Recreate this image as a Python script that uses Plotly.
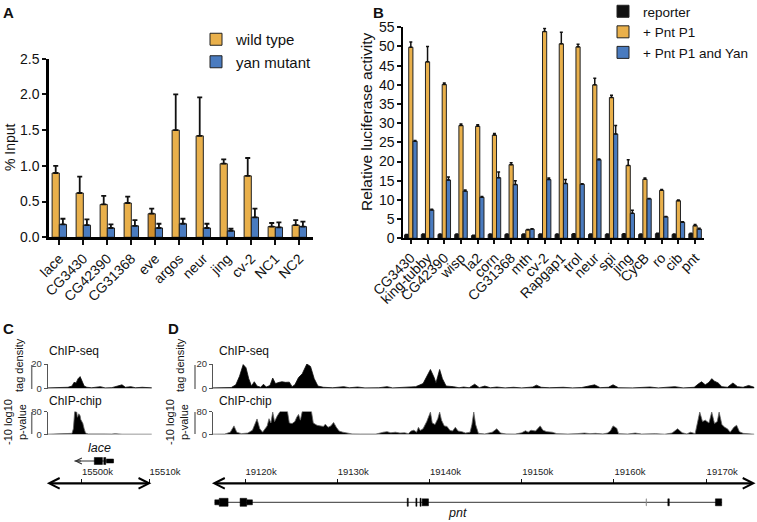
import plotly.graph_objects as go

W, H = 757, 522

# ---------------- panel A : ChIP-qPCR ----------------
A_GENES = ["lace", "CG3430", "CG42390", "CG31368", "eve", "argos", "neur", "jing", "cv-2", "NC1", "NC2"]
A_WILD = [0.90, 0.62, 0.46, 0.48, 0.33, 1.50, 1.42, 1.03, 0.86, 0.15, 0.17]
A_WILD_ERR = [0.10, 0.23, 0.12, 0.09, 0.07, 0.50, 0.54, 0.06, 0.25, 0.05, 0.07]
A_YAN = [0.18, 0.17, 0.13, 0.16, 0.13, 0.19, 0.13, 0.09, 0.28, 0.14, 0.15]
A_YAN_ERR = [0.08, 0.08, 0.05, 0.08, 0.06, 0.07, 0.06, 0.03, 0.12, 0.07, 0.07]

# ---------------- panel B : luciferase ----------------
B_GENES = ["CG3430", "king-tubby", "CG42390", "wisp", "la2", "corn", "CG31368", "mth", "cv-2",
           "Rapgap1", "trol", "neur", "spi", "jing", "CycB", "ro", "cib", "pnt"]
B_REPORTER = [0.9, 1.0, 1.0, 1.0, 0.7, 1.0, 1.0, 1.0, 1.0, 1.0, 1.1, 1.0, 1.0, 1.1, 1.0, 1.2, 1.0, 1.2]
B_REPORTER_ERR = [0.1] * 18
B_P1 = [49.8, 46.0, 40.1, 29.4, 29.2, 26.9, 19.2, 2.2, 53.9, 50.7, 49.9, 40.0, 36.7, 19.0, 15.4, 12.5, 9.8, 3.3]
B_P1_ERR = [1.4, 4.0, 0.4, 0.4, 0.4, 0.4, 0.5, 0.1, 0.8, 3.0, 0.7, 1.7, 0.6, 1.5, 0.3, 0.2, 0.2, 0.3]
B_YAN = [25.3, 7.4, 15.2, 12.3, 10.7, 15.8, 14.0, 2.4, 15.3, 14.3, 14.1, 20.5, 27.2, 6.5, 10.3, 5.6, 4.2, 2.4]
B_YAN_ERR = [0.2, 0.2, 0.8, 0.3, 0.2, 1.5, 1.0, 0.1, 0.4, 1.0, 0.1, 0.2, 2.2, 0.8, 0.1, 0.1, 0.1, 0.2]

# ---------------- panel C : lace locus (kb) ----------------
C_RANGE = [15494.6, 15510.4]
C_TICKS = [15500, 15510]
C_SEQ_POS = [15494.9, 15496.0, 15497.0, 15498.0, 15498.6, 15498.9, 15499.2, 15499.5, 15499.8, 15500.1,
             15500.4, 15500.8, 15501.5, 15502.8, 15503.5, 15504.5, 15506.0, 15506.5, 15507.3, 15508.0,
             15509.0, 15510.5]
C_SEQ_VAL = [0.5, 0.8, 0.5, 1.0, 2.0, 5.0, 4.5, 8.0, 9.7, 6.0,
             2.0, 1.0, 0.6, 1.5, 0.5, 0.7, 3.0, 1.0, 1.5, 0.6,
             1.0, 0.5]
C_CHIP_POS = [15494.9, 15496.0, 15497.0, 15498.0, 15498.6, 15498.8, 15499.0, 15499.3, 15499.4, 15499.6,
              15499.8, 15499.9, 15500.1, 15500.2, 15500.4, 15500.6, 15501.0, 15502.0, 15503.5, 15504.5,
              15505.0, 15506.0, 15507.5, 15508.5, 15510.5]
C_CHIP_VAL = [1, 2, 1, 2, 4, 20, 80, 78, 60, 72,
              65, 52, 45, 39, 20, 5, 2, 1, 2, 1.5,
              3, 1, 2, 1, 1]
LACE_SPAN = [15498.96, 15504.75]
LACE_EXON_START = [15501.9, 15503.3, 15503.7]
LACE_EXON_END = [15503.1, 15503.6, 15504.75]
LACE_EXON_H = [7, 7, 4]

# ---------------- panel D : pnt locus (kb) ----------------
D_RANGE = [19116.2, 19175.4]
D_TICKS = [19120, 19130, 19140, 19150, 19160, 19170]
D_SEQ_POS = [19116.4, 19117.5, 19118.5, 19119.0, 19119.4, 19119.8, 19120.1, 19120.4, 19120.7, 19121.0,
             19121.3, 19121.7, 19122.0, 19122.3, 19122.7, 19123.0, 19123.3, 19123.7, 19124.0, 19124.4,
             19124.8, 19125.1, 19125.4, 19125.8, 19126.2, 19126.7, 19127.1, 19127.5, 19127.9, 19128.5,
             19129.5, 19130.7, 19131.3, 19132.2, 19133.0, 19134.5, 19135.4, 19136.0, 19137.5, 19138.5,
             19139.3, 19139.8, 19140.1, 19140.5, 19140.7, 19140.9, 19141.1, 19141.4, 19141.8, 19142.6,
             19143.2, 19143.7, 19144.3, 19144.9, 19145.4, 19146.0, 19146.6, 19147.3, 19148.2, 19149.1,
             19150.0, 19151.2, 19151.6, 19152.1, 19153.0, 19154.5, 19155.5, 19156.5, 19157.9, 19158.5,
             19159.4, 19159.9, 19160.5, 19162.0, 19163.9, 19164.8, 19166.6, 19167.5, 19168.7, 19169.2,
             19169.5, 19169.9, 19170.3, 19170.6, 19170.9, 19171.3, 19171.7, 19172.3, 19172.9, 19173.4,
             19174.0, 19174.6, 19175.2]
D_SEQ_VAL = [0.5, 0.6, 0.8, 3, 10, 19.5, 17, 8, 2, 5.5,
             2, 1, 3.5, 1.2, 2.5, 8.5, 4, 5, 5.5, 5,
             5.2, 1.5, 3, 9, 12, 20, 18, 8, 2, 1,
             0.6, 1.5, 0.6, 1.2, 0.5, 0.6, 1.5, 0.5, 0.8, 1.5,
             4, 12, 15.5, 9, 4.5, 10, 15.5, 8, 2, 1.5,
             0.6, 1.2, 0.6, 3.5, 0.7, 2, 0.6, 1.2, 0.5, 1,
             0.5, 1.2, 2.7, 1, 0.6, 1, 0.5, 0.8, 3, 0.7,
             1, 3, 0.6, 0.5, 1.2, 0.5, 1.5, 0.5, 1, 4,
             5.5, 3, 5, 8, 6, 4.5, 1.5, 1, 4.5, 1.5,
             1, 2.5, 1]
D_CHIP_POS = [19116.4, 19117.8, 19118.4, 19118.8, 19119.1, 19119.6, 19120.3, 19120.8, 19121.3, 19121.6,
              19121.9, 19122.4, 19122.6, 19122.8, 19123.0, 19123.2, 19123.5, 19123.8, 19124.6, 19124.8,
              19125.1, 19125.4, 19125.6, 19125.8, 19126.0, 19126.2, 19127.2, 19127.4, 19127.8, 19128.2,
              19128.5, 19128.7, 19129.0, 19129.3, 19129.6, 19129.9, 19130.2, 19130.6, 19131.0, 19131.6,
              19132.5, 19133.5, 19134.2, 19135.0, 19135.4, 19135.8, 19136.3, 19136.8, 19137.3, 19137.7,
              19138.0, 19138.3, 19138.6, 19138.8, 19139.0, 19139.3, 19139.7, 19140.1, 19140.3, 19140.6,
              19140.9, 19141.1, 19141.3, 19141.6, 19141.9, 19142.2, 19142.5, 19142.8, 19143.1, 19143.5,
              19143.9, 19144.4, 19144.6, 19144.8, 19145.0, 19145.3, 19146.0, 19146.8, 19147.3, 19147.7,
              19148.3, 19149.3, 19150.0, 19150.4, 19150.7, 19151.0, 19151.5, 19152.0, 19152.3, 19152.7,
              19153.3, 19153.8, 19155.0, 19156.0, 19156.8, 19157.4, 19158.0, 19158.8, 19159.3, 19159.6,
              19159.9, 19160.3, 19160.5, 19161.5, 19162.3, 19163.0, 19164.5, 19165.5, 19166.3, 19166.9,
              19167.4, 19167.9, 19168.3, 19168.8, 19169.0, 19169.3, 19169.6, 19169.9, 19170.3, 19170.6,
              19170.9, 19171.2, 19171.4, 19171.7, 19172.0, 19172.3, 19172.6, 19173.0, 19173.3, 19173.6,
              19174.0, 19175.2]
D_CHIP_VAL = [1, 1.5, 8, 30, 8, 3, 5, 15, 54, 20,
              8, 30, 55, 40, 78, 45, 65, 80, 80, 40,
              38, 45, 60, 70, 50, 80, 80, 40, 32, 30,
              28, 36, 25, 30, 42, 25, 12, 8, 5, 2,
              1.5, 3, 1.5, 8, 10, 6, 8, 5, 6, 3,
              12, 15, 8, 25, 14, 20, 45, 78, 40, 35,
              55, 78, 50, 30, 28, 15, 12, 25, 12, 10,
              5, 8, 35, 78, 35, 4, 2, 8, 20, 5,
              2, 1.5, 6, 13, 8, 15, 12, 30, 15, 10,
              8, 3, 1.5, 3, 5, 3, 4, 2, 5, 12,
              30, 22, 3, 1.5, 5, 1.5, 3, 1, 5, 20,
              6, 2, 8, 3, 30, 78, 45, 50, 40, 78,
              38, 45, 78, 35, 25, 20, 8, 25, 32, 10,
              4, 1]
PNT_SPAN = [19116.72, 19171.68]
PNT_EXON_START = [19116.72, 19117.2, 19119.46, 19120.18, 19137.58, 19138.52, 19138.97, 19139.2, 19163.48, 19165.84, 19171.0]
PNT_EXON_END = [19117.2, 19118.16, 19120.18, 19120.8, 19137.7, 19138.64, 19139.09, 19139.89, 19163.53, 19166.0, 19171.68]
PNT_EXON_H = [5, 8, 8, 5, 8, 8, 8, 7, 7, 7, 7]

GOLD = "#E9B04B"
GOLD_DARK = "#D18F2C"
BLUE = "#4A7BBF"
EDGE = "#222222"
FONT = "Liberation Sans, Arial, sans-serif"


def px(x):
    return x / W


def py(y):
    return 1 - y / H


fig = go.Figure()

# Panel A bars
fig.add_trace(go.Bar(
    x=A_GENES, y=A_WILD, name="wild type", width=0.3, offset=-0.3,
    marker=dict(color=[GOLD_DARK if g == "eve" else GOLD for g in A_GENES], line=dict(color=EDGE, width=1)),
    error_y=dict(type="data", symmetric=False, array=A_WILD_ERR, arrayminus=[0] * len(A_WILD),
                 color="#111", thickness=1.8, width=2.5),
    xaxis="x", yaxis="y", legend="legend",
))
fig.add_trace(go.Bar(
    x=A_GENES, y=A_YAN, name="yan mutant", width=0.3, offset=0.0,
    marker=dict(color=BLUE, line=dict(color=EDGE, width=1)),
    error_y=dict(type="data", symmetric=False, array=A_YAN_ERR, arrayminus=[0] * len(A_YAN),
                 color="#111", thickness=1.8, width=2.5),
    xaxis="x", yaxis="y", legend="legend",
))

# Panel B bars
for vals, errs, name, color, off in [
    (B_REPORTER, B_REPORTER_ERR, "reporter", "#111111", -0.375),
    (B_P1, B_P1_ERR, "+ Pnt P1", GOLD, -0.125),
    (B_YAN, B_YAN_ERR, "+ Pnt P1 and Yan", BLUE, 0.125),
]:
    fig.add_trace(go.Bar(
        x=B_GENES, y=vals, name=name, width=0.25, offset=off,
        marker=dict(color=color, line=dict(color=EDGE, width=1)),
        error_y=dict(type="data", symmetric=False, array=errs, arrayminus=[0] * len(vals),
                     color="#111", thickness=1.5, width=1.5),
        xaxis="x2", yaxis="y2", legend="legend2",
    ))

# Tracks (C and D)
for xs, ys, xa, ya, lc in [
    (C_SEQ_POS, C_SEQ_VAL, "x3", "y3", "#111"),
    (C_CHIP_POS, C_CHIP_VAL, "x3", "y4", "#666"),
    (D_SEQ_POS, D_SEQ_VAL, "x4", "y5", "#111"),
    (D_CHIP_POS, D_CHIP_VAL, "x4", "y6", "#666"),
]:
    fig.add_trace(go.Scatter(
        x=xs, y=ys, mode="lines", fill="tozeroy", fillcolor="#000000",
        line=dict(color=lc, width=0.8), xaxis=xa, yaxis=ya, showlegend=False, hoverinfo="skip",
    ))

shapes = []
# gene models
LACE_Y, PNT_Y = py(461), py(502.3)
shapes.append(dict(type="line", xref="x3", yref="paper", x0=LACE_SPAN[0], x1=LACE_SPAN[1],
                   y0=LACE_Y, y1=LACE_Y, line=dict(color="#333", width=1)))
for s, e, h in zip(LACE_EXON_START, LACE_EXON_END, LACE_EXON_H):
    shapes.append(dict(type="rect", xref="x3", yref="paper", x0=s, x1=e,
                       y0=LACE_Y - h / 2 / H, y1=LACE_Y + h / 2 / H,
                       fillcolor="#000", line=dict(color="#000", width=0.5)))
shapes.append(dict(type="line", xref="x4", yref="paper", x0=PNT_SPAN[0], x1=PNT_SPAN[1],
                   y0=PNT_Y, y1=PNT_Y, line=dict(color="#333", width=1)))
for s, e, h in zip(PNT_EXON_START, PNT_EXON_END, PNT_EXON_H):
    c = "#888" if e - s < 0.08 else "#000"
    shapes.append(dict(type="rect", xref="x4", yref="paper", x0=s, x1=e,
                       y0=PNT_Y - h / 2 / H, y1=PNT_Y + h / 2 / H,
                       fillcolor=c, line=dict(color=c, width=0.5)))
# grey scale bars left of the track labels
for xb in (31.7, 195):
    for y0, y1 in ((365, 389), (412, 434)):
        shapes.append(dict(type="line", xref="paper", yref="paper", x0=px(xb), x1=px(xb),
                           y0=py(y1), y1=py(y0), line=dict(color="#777", width=1.5)))

ann = []


def text(x, y, s, size, **kw):
    d = dict(x=px(x), y=py(y), xref="paper", yref="paper", text=s, showarrow=False,
             xanchor="center", yanchor="middle",
             font=dict(family=FONT, size=size, color=kw.pop("color", "#111")))
    d.update(kw)
    ann.append(d)


text(8, 13, "<b>A</b>", 15)
text(378, 13, "<b>B</b>", 15)
text(8, 328, "<b>C</b>", 15)
text(173, 328, "<b>D</b>", 15)
text(10, 147, "% Input", 14, textangle=-90)
text(367, 122, "Relative luciferase activity", 15.5, textangle=-90)
for x0, tx, lx in ((47, 19, 15), (217, 180, 177)):
    text(x0, 351, "ChIP-seq", 12, xanchor="left")
    text(x0, 401, "ChIP-chip", 12, xanchor="left")
    text(tx, 365, "tag density", 11, textangle=-90)
    text(lx, 422, "-10 log10<br>p-value", 11, textangle=-90)
text(99, 448, "<i>lace</i>", 12.5)
text(458, 513, "<i>pnt</i>", 12.5)

# genome coordinate arrows
AXIS_Y = py(483.3)
for xa, rng in (("x3", [C_RANGE[0] + 0.05, C_RANGE[1] - 0.05]), ("x4", [D_RANGE[0] + 0.05, D_RANGE[1] - 0.05])):
    ann.append(dict(x=rng[1], ax=rng[0], xref=xa, axref=xa, y=AXIS_Y, yref="paper", ay=0, ayref="pixel",
                    showarrow=True, arrowside="end+start", arrowhead=5, arrowsize=0.9,
                    arrowwidth=2.3, arrowcolor="#000", text=""))
ann.append(dict(x=LACE_SPAN[0], ax=LACE_SPAN[0] + 1.2, xref="x3", axref="x3", y=LACE_Y, yref="paper",
                ay=0, ayref="pixel", showarrow=True, arrowhead=5, arrowsize=1.2, arrowwidth=1,
                arrowcolor="#333", text=""))

axis_common = dict(showgrid=False, zeroline=False, fixedrange=True, color="#111")
track_y = dict(showline=True, linecolor="#555", linewidth=1, ticks="outside", ticklen=3, tickcolor="#555",
               tickfont=dict(size=9.5, color="#333"), showgrid=False, zeroline=False, fixedrange=True)
geno_x = dict(anchor="free", position=AXIS_Y, side="top", showline=False, ticks="outside", ticklen=4,
              tickwidth=1, tickcolor="#111", tickfont=dict(size=9.5, color="#222"), ticklabelshift=16,
              ticklabelstandoff=1, showgrid=False, zeroline=False, fixedrange=True)

fig.update_layout(
    width=W, height=H, autosize=False,
    margin=dict(l=0, r=0, t=0, b=0, autoexpand=False),
    paper_bgcolor="white", plot_bgcolor="white",
    font=dict(family=FONT, size=14, color="#111"),
    barmode="overlay",
    xaxis=dict(domain=[px(49), px(313)], range=[-0.43, 10.57], anchor="y", showline=True, linewidth=2.5,
               linecolor="#000", ticks="outside", ticklen=5, tickwidth=2, tickangle=-45,
               tickmode="linear", dtick=1, tickfont=dict(size=14), **axis_common),
    yaxis=dict(domain=[py(237.3), py(58.7)], range=[0, 2.5], dtick=0.5, tickformat=".1f", anchor="x",
               showline=True, linewidth=2.5, linecolor="#000", ticks="outside", ticklen=4, tickwidth=2,
               tickfont=dict(size=14), **axis_common),
    xaxis2=dict(domain=[px(403.3), px(704.3)], range=[-0.45, 17.55], anchor="y2", showline=True,
                linewidth=2, linecolor="#000", ticks="outside", ticklen=4, tickwidth=1.5, tickangle=-45,
                tickmode="linear", dtick=1, tickfont=dict(size=14), **axis_common),
    yaxis2=dict(domain=[py(238.3), py(27.3)], range=[0, 55], dtick=5, anchor="x2", showline=True,
                linewidth=2, linecolor="#000", ticks="outside", ticklen=4, tickwidth=1.5,
                tickfont=dict(size=14), **axis_common),
    xaxis3=dict(domain=[px(45), px(151.7)], range=C_RANGE, tickvals=C_TICKS,
                ticktext=[f"{t}k" for t in C_TICKS], **geno_x),
    xaxis4=dict(domain=[px(210), px(756)], range=D_RANGE, tickvals=D_TICKS,
                ticktext=[f"{t}k" for t in D_TICKS], **geno_x),
    yaxis3=dict(domain=[py(388.5), py(364)], range=[0, 20], tickvals=[0, 20], anchor="free",
                position=px(46.7), **track_y),
    yaxis4=dict(domain=[py(434.5), py(411.5)], range=[0, 80], tickvals=[0, 80], anchor="free",
                position=px(46.7), **track_y),
    yaxis5=dict(domain=[py(388.5), py(364)], range=[0, 20], tickvals=[0, 20], anchor="free",
                position=px(212), **track_y),
    yaxis6=dict(domain=[py(434.5), py(411.5)], range=[0, 80], tickvals=[0, 80], anchor="free",
                position=px(212), **track_y),
    legend=dict(x=px(196), y=py(23), xanchor="left", yanchor="top", font=dict(size=15),
                bgcolor="rgba(0,0,0,0)", itemclick=False, tracegroupgap=0),
    legend2=dict(x=px(603), y=py(-4), xanchor="left", yanchor="top", font=dict(size=13.5),
                 bgcolor="rgba(0,0,0,0)", itemclick=False, tracegroupgap=0),
    shapes=shapes,
    annotations=ann,
)

# page body has an 8px default margin; remove it so the figure sits at the window origin
fig.write_html("out.html", config={"displayModeBar": False},
               post_script="document.body.style.margin='0';")
